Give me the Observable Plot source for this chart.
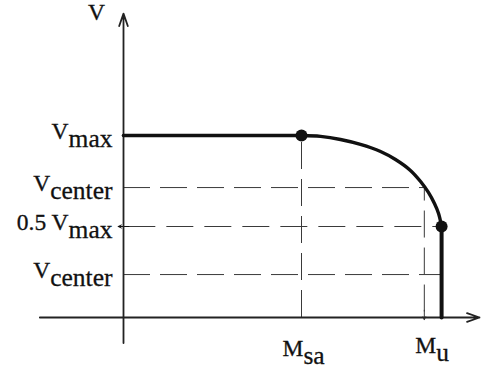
<!DOCTYPE html>
<html>
<head>
<meta charset="utf-8">
<script src="https://cdn.jsdelivr.net/npm/d3@7"></script>
<script src="https://cdn.jsdelivr.net/npm/@observablehq/plot@0.6"></script>
<style>
  html, body { margin: 0; padding: 0; background: #fff; }
  #chart svg { display: block; }
  #chart svg text, #chart svg tspan { font-family: "Liberation Serif", "Times New Roman", serif !important; }
</style>
</head>
<body>
<div id="chart"></div>
<script>
// Moments, scaled so that Msa = 1
const mSa = 1.0;
const mU = 1.69;
const mEnd = 1.787;

// Shear levels, scaled so that Vmax = 1
const vMax = 1.0;
const vHalf = 0.5;
const vCenterHigh = 0.714;
const vCenterLow = 0.236;

// Interaction curve from the end of the plateau down to 0.5 Vmax
const curveM = [1.000, 1.107, 1.219, 1.331, 1.444, 1.528, 1.612, 1.669, 1.713, 1.747, 1.770, 1.787];
const curveV = [1.000, 0.995, 0.978, 0.951, 0.912, 0.868, 0.808, 0.747, 0.687, 0.626, 0.571, 0.500];

// Axis extents (including the part behind the origin)
const mAxis = [-0.47, 2.0];
const vAxis = [-0.14, 1.67];

// Tick labels; "_" separates a label from its subscript
const vTickValues = [vMax, vCenterHigh, vHalf, vCenterLow];
const vTickLabels = ["V_max", "V_center", "0.5 V_max", "V_center"];
const mTickValues = [mSa, mU];
const mTickLabels = ["M_sa", "M_u"];

const vTicks = vTickValues.map((v, i) => ({v, label: vTickLabels[i]}));
const mTicks = mTickValues.map((m, i) => ({m, label: mTickLabels[i]}));
const curve = curveM.map((m, i) => ({m, v: curveV[i]}));

const ink = "#111";
const dash = "#3a3a3a";
const guide = {stroke: dash, strokeWidth: 1, strokeDasharray: "27,10"};

const plot = Plot.plot({
  width: 481,
  height: 370,
  margin: 0,
  style: {background: "#fff"},
  x: {domain: [0, 1], range: [123, 301], axis: null},
  y: {domain: [0, 1], range: [317, 135], axis: null},
  marks: [
    // dashed guides
    Plot.ruleX([mSa], {y1: 0, y2: vMax, ...guide}),
    Plot.ruleX([mU], {y1: 0.03, y2: vCenterHigh, ...guide}),
    Plot.ruleY([vCenterHigh], {x1: 0, x2: mU, ...guide}),
    Plot.ruleY([vHalf], {x1: 0.03, x2: mEnd, ...guide, strokeDasharray: "27,11"}),
    Plot.ruleY([vCenterLow], {x1: 0, x2: mEnd, ...guide}),
    // small arrowheads where two guides meet the axes
    Plot.arrow([{v: vHalf}], {x1: () => 0.03, y1: "v", x2: () => -0.03, y2: "v", headLength: 7, headAngle: 50, stroke: ink, strokeWidth: 1}),
    Plot.arrow([{m: mU}], {x1: "m", y1: () => 0.04, x2: "m", y2: () => -0.012, headLength: 7, headAngle: 50, stroke: dash, strokeWidth: 1}),
    // axes
    Plot.arrow([{a: mAxis[0], b: mAxis[1]}], {x1: "a", x2: "b", y1: () => 0, y2: () => 0, headLength: 11, headAngle: 38, stroke: "#222", strokeWidth: 1.8}),
    Plot.arrow([{a: vAxis[0], b: vAxis[1]}], {y1: "a", y2: "b", x1: () => 0, x2: () => 0, headLength: 11, headAngle: 38, stroke: "#222", strokeWidth: 1.8}),
    // plateau, curve and vertical drop
    Plot.line([{m: 0, v: vMax}, {m: mSa, v: vMax}], {x: "m", y: "v", stroke: ink, strokeWidth: 3.6}),
    Plot.line(curve, {x: "m", y: "v", curve: "catmull-rom", stroke: ink, strokeWidth: 3.4}),
    Plot.line([{m: mEnd, v: vHalf}, {m: mEnd, v: 0}], {x: "m", y: "v", stroke: ink, strokeWidth: 4}),
    Plot.dot([{m: mSa, v: vMax}, {m: mEnd, v: vHalf}], {x: "m", y: "v", r: 6, fill: ink, stroke: "none"}),
    // labels
    Plot.text(["V"], {x: () => 0, frameAnchor: "top", dx: -27, dy: 19, lineAnchor: "bottom", textAnchor: "middle", fill: ink}),
    Plot.text(vTicks, {x: () => 0, y: "v", text: "label", dx: -11, dy: 3, lineAnchor: "bottom", textAnchor: "end", fill: ink}),
    Plot.text([mTicks[0]], {x: "m", y: () => 0, text: "label", dx: -19, dy: 38, lineAnchor: "bottom", textAnchor: "start", fill: ink}),
    Plot.text([mTicks[1]], {x: "m", y: () => 0, text: "label", dx: -9, dy: 35, lineAnchor: "bottom", textAnchor: "start", fill: ink})
  ]
});

// turn "X_sub" labels into a main text with a lowered, larger subscript
d3.select(plot).selectAll("text").each(function() {
  const t = d3.select(this)
    .style("font-size", "23.5px")
    .style("stroke", ink)
    .style("stroke-width", "0.3px");
  const s = this.textContent;
  const k = s.indexOf("_");
  if (k < 0) return;
  t.text(s.slice(0, k));
  t.append("tspan").attr("dy", 8).style("font-size", "25.5px").text(s.slice(k + 1));
});

document.getElementById("chart").appendChild(plot);
</script>
</body>
</html>
